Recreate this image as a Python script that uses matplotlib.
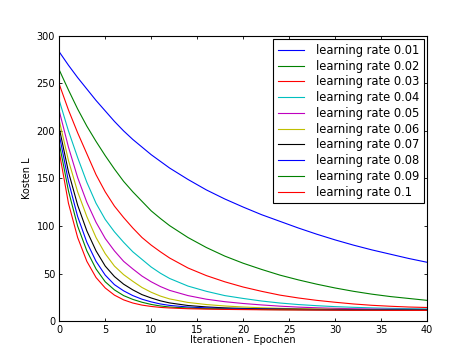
import numpy as np
import matplotlib
matplotlib.use("Agg")
import matplotlib.pyplot as plt

epochs = [0, 1, 2, 3, 4, 5, 6, 7, 8, 9, 10, 11, 12, 14, 16, 18, 20, 22, 24, 26, 28, 30, 32, 34, 36, 38, 40]

lr001 = [283, 269, 256, 244, 232, 221, 210, 200, 191, 183, 175, 168, 161, 149, 138, 128.5, 120, 112, 105, 98, 91.5, 85.5, 80, 75, 70.5, 66, 62]
lr002 = [264, 243, 223, 205, 189, 174, 160, 147, 136, 126, 116, 108, 100.5, 88, 77.5, 68.5, 61, 54.5, 48.5, 43.5, 39, 35, 31.5, 28.5, 26, 24, 22]
lr003 = [249, 222, 198, 176, 154, 136, 121, 109, 98, 88, 80, 73, 66.5, 56, 48, 41.5, 36, 31.5, 27.5, 24.5, 22, 20, 18.2, 16.8, 15.8, 15, 14.5]
lr004 = [232, 200, 172, 146, 124, 107, 94, 83, 73, 65, 57, 50.5, 45, 37, 31.5, 27, 24, 21.3, 19.2, 17.6, 16.4, 15.4, 14.7, 14.1, 13.6, 13.3, 13]
lr005 = [221, 183, 151, 125, 104, 87, 74, 63, 55, 47.5, 41.5, 36.5, 32.5, 27, 23.2, 20.6, 18.7, 17.2, 15.9, 14.9, 14.2, 13.6, 13.2, 12.9, 12.7, 12.5, 12.4]
lr006 = [211, 169, 136, 110, 88, 71, 58, 49, 42, 35.5, 30.5, 26.5, 23.5, 19.8, 17.6, 16.1, 15, 14.2, 13.6, 13.2, 12.9, 12.6, 12.4, 12.3, 12.2, 12.1, 12]
lr007 = [203, 157, 122, 95, 74, 58, 47, 39, 33, 28, 24.5, 21.5, 19.3, 16.6, 15.1, 14.1, 13.5, 13.1, 12.9, 12.7, 12.5, 12.4, 12.3, 12.2, 12.1, 12, 12]
lr008 = [196, 147, 110, 83, 63, 48.5, 38.5, 32, 27, 23.2, 20.4, 18.2, 16.7, 15, 14.1, 13.5, 13.1, 12.8, 12.6, 12.4, 12.2, 12.1, 12, 12, 11.9, 11.9, 11.8]
lr009 = [187, 137, 100, 74, 55, 41.5, 33, 27, 23, 20, 17.7, 16.1, 15, 13.9, 13.3, 12.9, 12.6, 12.4, 12.2, 12.1, 12, 11.9, 11.8, 11.8, 11.7, 11.7, 11.6]
lr010 = [178, 124, 88, 63, 46, 35, 27.5, 22.5, 19.2, 17, 15.6, 14.6, 14, 13.2, 12.8, 12.5, 12.3, 12.1, 12, 11.9, 11.8, 11.7, 11.6, 11.6, 11.5, 11.5, 11.5]

series = [lr001, lr002, lr003, lr004, lr005, lr006, lr007, lr008, lr009, lr010]
labels = ["learning rate 0.01", "learning rate 0.02", "learning rate 0.03",
          "learning rate 0.04", "learning rate 0.05", "learning rate 0.06",
          "learning rate 0.07", "learning rate 0.08", "learning rate 0.09",
          "learning rate 0.1"]
colors = ["b", "g", "r", "c", "m", "y", "k", "b", "g", "r"]

fig = plt.figure(figsize=(4.74, 3.57), dpi=100)
ax = fig.add_axes([0.125, 0.1, 0.776, 0.8])

for y, lab, c in zip(series, labels, colors):
    ax.plot(epochs, y, color=c, lw=0.8, label=lab)

ax.set_xlim(0, 40)
ax.set_ylim(0, 300)
ax.set_xticks(np.arange(0, 41, 5))
ax.set_yticks(np.arange(0, 301, 50))
ax.tick_params(direction="in", top=True, right=True, length=2.5, width=0.6,
               labelsize=7, pad=3)
for s in ax.spines.values():
    s.set_linewidth(0.8)

ax.set_xlabel("Iterationen - Epochen", fontsize=7, labelpad=0)
ax.set_ylabel("Kosten L", fontsize=7, labelpad=3)

leg = ax.legend(loc="upper right", fontsize=8.3, fancybox=False, framealpha=1,
                edgecolor="black", handlelength=2.3, labelspacing=0.24,
                borderaxespad=0.3, handletextpad=1.0)
leg.get_frame().set_linewidth(0.8)

fig.savefig("out.png", dpi=100)
